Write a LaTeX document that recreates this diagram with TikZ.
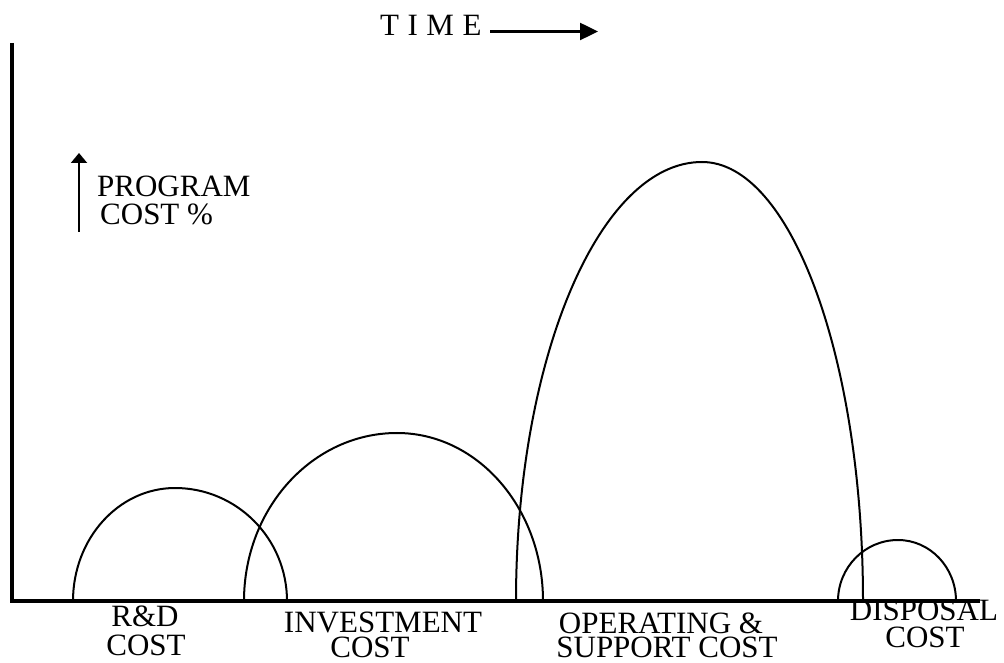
\documentclass[tikz,border=0pt]{standalone}
\usepackage{fontspec}
\setmainfont{Liberation Serif}
\usetikzlibrary{arrows.meta}
\begin{document}
\begin{tikzpicture}[x=1pt,y=1pt,
  lbl/.style={inner sep=0pt,anchor=base,font=\fontsize{31}{31}\selectfont},
  lblw/.style={inner sep=0pt,anchor=base west,font=\fontsize{31}{31}\selectfont},
  axisline/.style={line width=4.5pt,line join=miter},
  costcurve/.style={line width=2pt}]
\useasboundingbox (0,0) rectangle (1004,662);
% axes
\coordinate (ytop) at (12,619);
\coordinate (orig) at (12,61);
\coordinate (xend) at (980,61);
\draw[axisline] (ytop) -- (orig) -- (xend);
% time arrow
\node[lblw] (time) at (380,626) {T\hspace{8.5pt}I\hspace{8.5pt}M\hspace{8.5pt}E};
\coordinate (ta) at (490,630.5);
\coordinate (tb) at (598,630.5);
\draw[line width=2.5pt,-{Triangle[length=18pt,width=17pt]}] (ta) -- (tb);
% cost arrow
\coordinate (ca) at (79,430);
\coordinate (cb) at (79,509);
\draw[line width=2pt,-{Triangle[length=10pt,width=16pt]}] (ca) -- (cb);
\node[lblw] (prog) at (97,465) {PROGRAM};
\node[lblw] (cpct) at (100,437) {COST \%};
% curves
\coordinate (rd0) at (73,61);
\draw[costcurve] (rd0) arc[start angle=180,end angle=90,x radius=102pt,y radius=113pt]
  arc[start angle=90,end angle=0,x radius=112pt,y radius=113pt];
\coordinate (in0) at (244,61);
\draw[costcurve] (in0) arc[start angle=180,end angle=90,x radius=153pt,y radius=168pt]
  arc[start angle=90,end angle=0,x radius=146pt,y radius=168pt];
\coordinate (op0) at (516,61);
\draw[costcurve] (op0) arc[start angle=180,end angle=90,x radius=186pt,y radius=439pt]
  arc[start angle=90,end angle=0,x radius=161pt,y radius=439pt];
\coordinate (di0) at (838,61);
\draw[costcurve] (di0) arc[start angle=180,end angle=90,x radius=60pt,y radius=61pt]
  arc[start angle=90,end angle=0,x radius=58pt,y radius=61pt];
% labels
\node[lbl] (rd1) at (145,36) {R\&D};
\node[lbl] (rd2) at (146,7) {COST};
\node[lbl] (in1) at (383,30) {INVESTMENT};
\node[lbl] (in2) at (370,5) {COST};
\node[lbl] (op1) at (661,29) {OPERATING \&};
\node[lbl] (op2) at (667,5) {SUPPORT COST};
\node[lbl] (di1) at (924,42) {DISPOSAL};
\node[lbl] (di2) at (925,15) {COST};
\end{tikzpicture}
\end{document}
